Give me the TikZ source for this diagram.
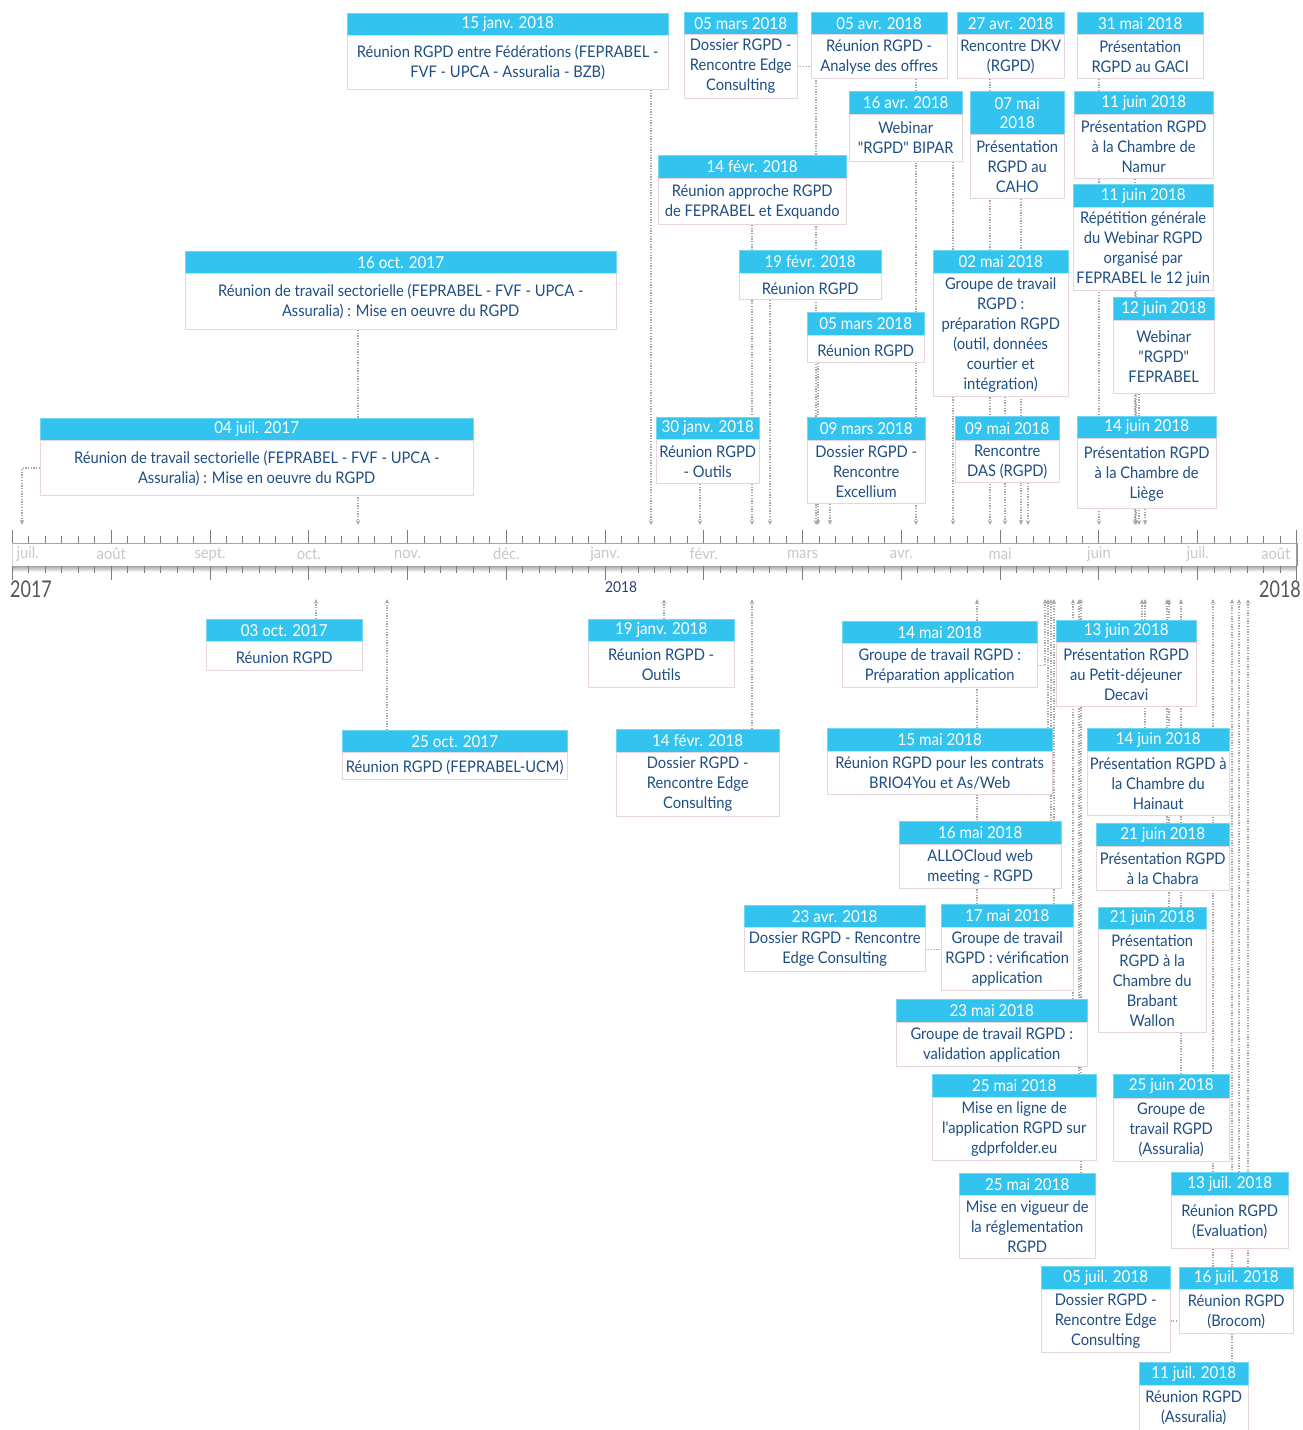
\documentclass[tikz,border=0pt]{standalone}
\usepackage{fontspec}
\setmainfont[FakeStretch=0.92,Ligatures=TeXOff]{Lato}
\newfontfamily\yearfont[FakeStretch=0.78]{Lato}
\usetikzlibrary{positioning,arrows.meta}
\pgfdeclarelayer{background}
\pgfsetlayers{background,main}
\definecolor{headcyan}{RGB}{50,196,238}
\definecolor{navy}{RGB}{30,78,132}
\definecolor{boxline}{RGB}{232,214,222}
\definecolor{linegray}{RGB}{168,168,168}
\definecolor{tickgray}{RGB}{125,125,125}
\definecolor{monthgray}{RGB}{200,200,200}
\definecolor{yeargray}{RGB}{85,85,85}
\definecolor{yearnavy}{RGB}{40,60,125}
\begin{document}
\begin{tikzpicture}[x=1pt,y=-1pt,
  datebox/.style={anchor=north west, fill=headcyan, draw=headcyan!70!white, text=white,
    font=\fontsize{16.5}{19}\selectfont, inner sep=0pt, minimum height=22, align=center},
  infobox/.style={below=0pt of #1, fill=white, draw=boxline, text=navy,
    font=\fontsize{16}{20}\selectfont, inner sep=0pt, align=center,
    execute at begin node=\rule{0pt}{15.5pt}},
  conn/.style={draw=linegray, line width=1.3pt, dash pattern=on 1.3pt off 1.4pt,
    -{Stealth[length=5pt,width=4.5pt]}},
  month/.style={text=monthgray, font=\fontsize{16}{16}\selectfont},
  year/.style={text=yeargray, font=\yearfont\fontsize{23}{23}\selectfont, inner sep=0pt}
]
\useasboundingbox (0,0) rectangle (1302,1430);

% Timeline axis
\fill[white] (12,543) rectangle (1297,566);
\shade[top color=black!35, bottom color=white] (12,566) rectangle (1297,572);
\draw[tickgray!70, line width=1pt] (12,543) -- (1297,543);
\draw[black!15, line width=1pt] (12,543) -- (12,566);
\draw[black!40, line width=1.5pt] (1297,543) -- (1297,566);
\foreach \i in {0,...,78} {
  \draw[tickgray, line width=1pt] ({12.5+\i*98.77/6},536) -- ++(0,7);
  \draw[tickgray, line width=1pt] ({12.5+\i*98.77/6},566) -- ++(0,7);
}
\foreach \i in {0,...,13} {
  \draw[tickgray, line width=1pt] ({12.5+\i*98.77},530) -- ++(0,13);
  \draw[tickgray, line width=1pt] ({12.5+\i*98.77},566) -- ++(0,14);
}
\node[month, anchor=west] (m0) at (13,554) {juil.};
\foreach \mo [count=\k] in {août,sept.,oct.,nov.,déc.,janv.,févr.,mars,avr.,mai,juin,juil.}
  \node[month] (m\k) at ({12.5+\k*98.77},554) {\mo};
\node[month, anchor=east] (m13) at (1294,554) {août};
\node[year, anchor=north west] (y2017) at (10,581) {2017};
\node[year, anchor=north east] (y2018) at (1301,581) {2018};
\node[anchor=north west, inner sep=0pt, text=yearnavy, font=\fontsize{15}{15}\selectfont] (y2018s) at (605,581) {2018};

% Arrow ends on the axis
\foreach \n/\x in {jul04/22, oct16/358, jan15/651, jan30/700, feb14/752, feb19/770,
  mar05a/816, mar05b/818, mar09/830, apr05/916, apr16/953, apr27/990, may02/1005,
  may07/1021, may09/1028, may31/1099, jun11a/1135, jun11b/1136, jun12/1139, jun14/1145}
  \coordinate (a-\n) at (\x,525);
\foreach \n/\x in {oct03/316, oct25/387, jan19/664, feb14b/752, apr23/977, may14/1045,
  may15/1048, may16/1051, may17/1054, may23/1073, may25a/1079, may25b/1081, jun13/1142,
  jun14b/1145, jun21a/1167, jun21b/1169, jun25/1181, jul05/1213, jul11/1232, jul13/1239,
  jul16/1248}
  \coordinate (b-\n) at (\x,599);

% Events above the axis
\node[datebox, minimum width=433] (d-jul04) at (40,418) {04 juil. 2017};
\node[infobox=d-jul04, minimum width=433, minimum height=55] (jul04) {Réunion de travail sectorielle (FEPRABEL - FVF - UPCA -\\Assuralia) : Mise en oeuvre du RGPD};
\node[datebox, minimum width=431] (d-oct16) at (185,251) {16 oct. 2017};
\node[infobox=d-oct16, minimum width=431, minimum height=56] (oct16) {Réunion de travail sectorielle (FEPRABEL - FVF - UPCA -\\Assuralia) : Mise en oeuvre du RGPD};
\node[datebox, minimum width=321] (d-jan15) at (347,13) {15 janv. 2018};
\node[infobox=d-jan15, minimum width=321, minimum height=54] (jan15) {Réunion RGPD entre Fédérations (FEPRABEL -\\FVF - UPCA - Assuralia - BZB)};
\node[datebox, minimum width=103] (d-jan30) at (656,417) {30 janv. 2018};
\node[infobox=d-jan30, minimum width=103, minimum height=44] (jan30) {Réunion RGPD\\- Outils};
\node[datebox, minimum width=188, minimum height=23] (d-feb14) at (658,155) {14 févr. 2018};
\node[infobox=d-feb14, minimum width=188, minimum height=46] (feb14) {Réunion approche RGPD\\de FEPRABEL et Exquando};
\node[datebox, minimum width=142, minimum height=23] (d-feb19) at (739,250) {19 févr. 2018};
\node[infobox=d-feb19, minimum width=142, minimum height=26] (feb19) {Réunion RGPD};
\node[datebox, minimum width=113] (d-mar05a) at (684,12) {05 mars 2018};
\node[infobox=d-mar05a, minimum width=113, minimum height=64] (mar05a) {Dossier RGPD -\\Rencontre Edge\\Consulting};
\node[datebox, minimum width=117, minimum height=23] (d-mar05b) at (807,312) {05 mars 2018};
\node[infobox=d-mar05b, minimum width=117, minimum height=27] (mar05b) {Réunion RGPD};
\node[datebox, minimum width=118, minimum height=23] (d-mar09) at (807,417) {09 mars 2018};
\node[infobox=d-mar09, minimum width=118, minimum height=63] (mar09) {Dossier RGPD -\\Rencontre\\Excellium};
\node[datebox, minimum width=136] (d-apr05) at (811,12) {05 avr. 2018};
\node[infobox=d-apr05, minimum width=136, minimum height=44] (apr05) {Réunion RGPD -\\Analyse des offres};
\node[datebox, minimum width=113, minimum height=23] (d-apr16) at (849,91) {16 avr. 2018};
\node[infobox=d-apr16, minimum width=113, minimum height=47] (apr16) {Webinar\\"RGPD" BIPAR};
\node[datebox, minimum width=107] (d-apr27) at (957,12) {27 avr. 2018};
\node[infobox=d-apr27, minimum width=107, minimum height=44] (apr27) {Rencontre DKV\\(RGPD)};
\node[datebox, minimum width=135, minimum height=23] (d-may02) at (933,250) {02 mai 2018};
\node[infobox=d-may02, minimum width=135, minimum height=123] (may02) {Groupe de travail\\RGPD :\\préparation RGPD\\(outil, données\\courtier et\\intégration)};
\node[datebox, minimum width=94, minimum height=43] (d-may07) at (970,91) {07 mai\\2018};
\node[infobox=d-may07, minimum width=94, minimum height=64] (may07) {Présentation\\RGPD au\\CAHO};
\node[datebox, minimum width=104, minimum height=24] (d-may09) at (955,416) {09 mai 2018};
\node[infobox=d-may09, minimum width=104, minimum height=42] (may09) {Rencontre\\DAS (RGPD)};
\node[datebox, minimum width=126] (d-may31) at (1077,12) {31 mai 2018};
\node[infobox=d-may31, minimum width=126, minimum height=44] (may31) {Présentation\\RGPD au GACI};
\node[datebox, minimum width=139, minimum height=23] (d-jun11a) at (1074,91) {11 juin 2018};
\node[infobox=d-jun11a, minimum width=139, minimum height=64] (jun11a) {Présentation RGPD\\à la Chambre de\\Namur};
\node[datebox, minimum width=140, minimum height=23] (d-jun11b) at (1073,184) {11 juin 2018};
\node[infobox=d-jun11b, minimum width=140, minimum height=83] (jun11b) {Répétition générale\\du Webinar RGPD\\organisé par\\FEPRABEL le 12 juin};
\node[datebox, minimum width=101, minimum height=23] (d-jun12) at (1113,297) {12 juin 2018};
\node[infobox=d-jun12, minimum width=101, minimum height=73] (jun12) {Webinar\\"RGPD"\\FEPRABEL};
\node[datebox, minimum width=139] (d-jun14) at (1077,416) {14 juin 2018};
\node[infobox=d-jun14, minimum width=139, minimum height=70] (jun14) {Présentation RGPD\\à la Chambre de\\Liège};

% Events below the axis
\node[datebox, minimum width=156] (d-oct03) at (206,619) {03 oct. 2017};
\node[infobox=d-oct03, minimum width=156, minimum height=29] (oct03) {Réunion RGPD};
\node[datebox, minimum width=225] (d-oct25) at (342,730) {25 oct. 2017};
\node[infobox=d-oct25, minimum width=225, minimum height=27] (oct25) {Réunion RGPD (FEPRABEL-UCM)};
\node[datebox, minimum width=146] (d-jan19) at (588,619) {19 janv. 2018};
\node[infobox=d-jan19, minimum width=146, minimum height=46] (jan19) {Réunion RGPD -\\Outils};
\node[datebox, minimum width=163, minimum height=23] (d-feb14b) at (616,729) {14 févr. 2018};
\node[infobox=d-feb14b, minimum width=163, minimum height=64] (feb14b) {Dossier RGPD -\\Rencontre Edge\\Consulting};
\node[datebox, minimum width=181] (d-apr23) at (744,905) {23 avr. 2018};
\node[infobox=d-apr23, minimum width=181, minimum height=44] (apr23) {Dossier RGPD - Rencontre\\Edge Consulting};
\node[datebox, minimum width=195] (d-may14) at (842,621) {14 mai 2018};
\node[infobox=d-may14, minimum width=195, minimum height=44] (may14) {Groupe de travail RGPD :\\Préparation application};
\node[datebox, minimum width=225, minimum height=23] (d-may15) at (827,728) {15 mai 2018};
\node[infobox=d-may15, minimum width=225, minimum height=43] (may15) {Réunion RGPD pour les contrats\\BRIO4You et As/Web};
\node[datebox, minimum width=162, minimum height=23] (d-may16) at (899,821) {16 mai 2018};
\node[infobox=d-may16, minimum width=162, minimum height=44] (may16) {ALLOCloud web\\meeting - RGPD};
\node[datebox, minimum width=132, minimum height=23] (d-may17) at (941,904) {17 mai 2018};
\node[infobox=d-may17, minimum width=132, minimum height=63] (may17) {Groupe de travail\\RGPD : vérification\\application};
\node[datebox, minimum width=191, minimum height=23] (d-may23) at (896,999) {23 mai 2018};
\node[infobox=d-may23, minimum width=191, minimum height=44] (may23) {Groupe de travail RGPD :\\validation application};
\node[datebox, minimum width=164, minimum height=23] (d-may25a) at (932,1074) {25 mai 2018};
\node[infobox=d-may25a, minimum width=164, minimum height=63] (may25a) {Mise en ligne de\\l'application RGPD sur\\gdprfolder.eu};
\node[datebox, minimum width=136] (d-may25b) at (959,1173) {25 mai 2018};
\node[infobox=d-may25b, minimum width=136, minimum height=63] (may25b) {Mise en vigueur de\\la réglementation\\RGPD};
\node[datebox, minimum width=140] (d-jun13) at (1056,620) {13 juin 2018};
\node[infobox=d-jun13, minimum width=140, minimum height=64] (jun13) {Présentation RGPD\\au Petit-déjeuner\\Decavi};
\node[datebox, minimum width=142, minimum height=23] (d-jun14b) at (1087,728) {14 juin 2018};
\node[infobox=d-jun14b, minimum width=142, minimum height=64] (jun14b) {Présentation RGPD à\\la Chambre du\\Hainaut};
\node[datebox, minimum width=133, minimum height=23] (d-jun21a) at (1096,823) {21 juin 2018};
\node[infobox=d-jun21a, minimum width=133, minimum height=44] (jun21a) {Présentation RGPD\\à la Chabra};
\node[datebox, minimum width=108] (d-jun21b) at (1098,907) {21 juin 2018};
\node[infobox=d-jun21b, minimum width=108, minimum height=103] (jun21b) {Présentation\\RGPD à la\\Chambre du\\Brabant\\Wallon};
\node[datebox, minimum width=116, minimum height=24] (d-jun25) at (1113,1074) {25 juin 2018};
\node[infobox=d-jun25, minimum width=116, minimum height=63] (jun25) {Groupe de\\travail RGPD\\(Assuralia)};
\node[datebox, minimum width=129, minimum height=23] (d-jul05) at (1041,1266) {05 juil. 2018};
\node[infobox=d-jul05, minimum width=129, minimum height=63] (jul05) {Dossier RGPD -\\Rencontre Edge\\Consulting};
\node[datebox, minimum width=109, minimum height=23] (d-jul11) at (1139,1362) {11 juil. 2018};
\node[infobox=d-jul11, minimum width=109, minimum height=45] (jul11) {Réunion RGPD\\(Assuralia)};
\node[datebox, minimum width=117, minimum height=23] (d-jul13) at (1171,1172) {13 juil. 2018};
\node[infobox=d-jul13, minimum width=117, minimum height=53] (jul13) {Réunion RGPD\\(Evaluation)};
\node[datebox, minimum width=114] (d-jul16) at (1179,1267) {16 juil. 2018};
\node[infobox=d-jul16, minimum width=114, minimum height=44] (jul16) {Réunion RGPD\\(Brocom)};

% Connectors (behind the boxes)
\begin{pgfonlayer}{background}
\draw[conn] (jul04.west) -| (a-jul04);
\draw[conn] (mar05a.east) -| (a-mar05a);
\foreach \n in {oct16, jan15, jan30, feb14, feb19, mar05b, mar09, apr05, apr16, apr27,
  may02, may07, may09, may31, jun11a, jun11b, jun12, jun14}
  \draw[conn] (\n.south -| a-\n) -- (a-\n);
\draw[conn] (apr23.east) -| (b-apr23);
\draw[conn] (may14.east) -| (b-may14);
\draw[conn] (jul05.east) -| (b-jul05);
\foreach \n in {oct03, oct25, jan19, feb14b, may15, may16, may17, may23, may25a, may25b,
  jun13, jun14b, jun21a, jun21b, jun25, jul11, jul13, jul16}
  \draw[conn] (d-\n.north -| b-\n) -- (b-\n);
\end{pgfonlayer}
\end{tikzpicture}
\end{document}
